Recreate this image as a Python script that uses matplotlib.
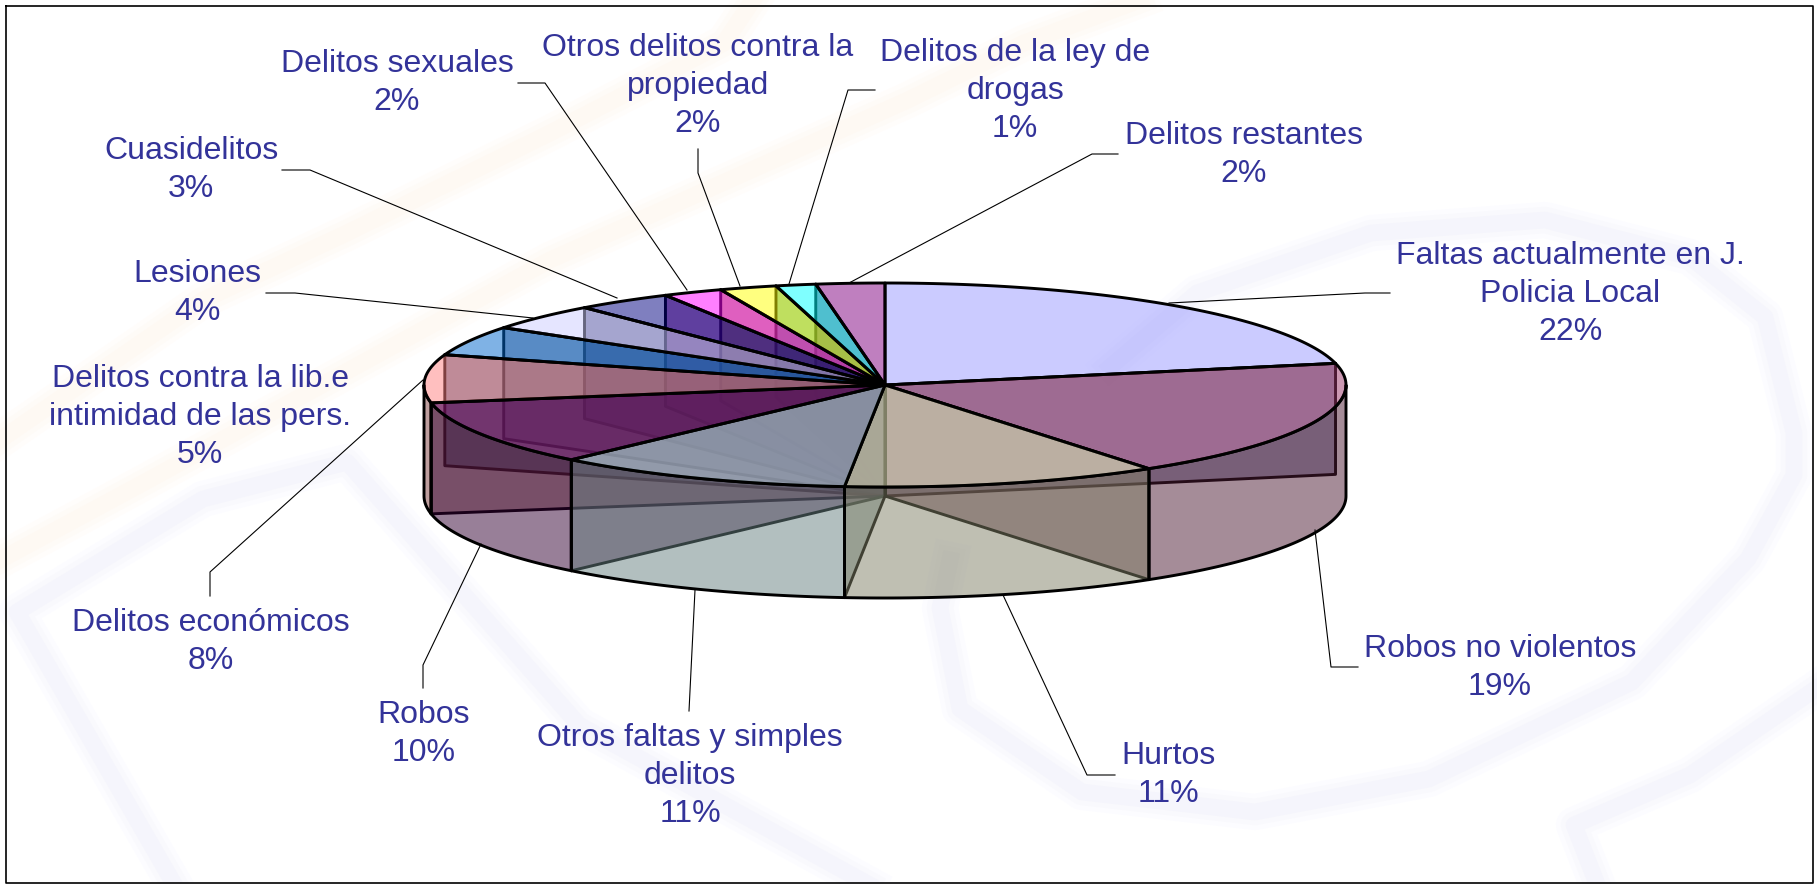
import numpy as np
import matplotlib
matplotlib.use("Agg")
import matplotlib.pyplot as plt
from matplotlib.colors import to_rgb
from matplotlib.patches import Polygon

categories = ["Faltas actualmente en J.\nPolicia Local", "Robos no violentos", "Hurtos",
              "Otros faltas y simples\ndelitos", "Robos", "Delitos económicos",
              "Delitos contra la lib.e\nintimidad de las pers.", "Lesiones", "Cuasidelitos",
              "Delitos sexuales", "Otros delitos contra la\npropiedad",
              "Delitos de la ley de\ndrogas", "Delitos restantes"]
shares = [21.6, 18.7, 11.1, 10.51, 10.29, 7.6, 4.7, 4.2, 3.4, 2.1, 2.0, 1.4, 2.4]
colors = ["#9999FF", "#993366", "#FFFFCC", "#CCFFFF", "#660066", "#FF8080", "#0066CC",
          "#CCCCFF", "#000080", "#FF00FF", "#FFFF00", "#00FFFF", "#800080"]

# where the labels sit, in pixels
label_pos = [(1570, 294), (1500, 668), (1168, 775), (690, 776), (424, 734), (211, 642),
             (200, 417), (197, 293), (191, 170), (397, 83), (698, 86), (1015, 91), (1244, 155)]
leaders = [[(1390, 293), (1365, 293), (1169, 303)],
           [(1358, 667), (1331, 667), (1315, 530)],
           [(1115, 775), (1087, 775), (1003, 595)],
           [(689, 711), (695, 590)],
           [(423, 688), (423, 665), (481, 544)],
           [(210, 596), (210, 572), (423, 380)],
           [],
           [(266, 293), (295, 293), (533, 318)],
           [(282, 170), (310, 170), (617, 298)],
           [(518, 83), (545, 83), (687, 290)],
           [(698, 149), (698, 173), (740, 286)],
           [(875, 90), (848, 90), (789, 284)],
           [(1118, 154), (1092, 154), (849, 283)]]

# faint logo behind the chart
wm_lavender = [
    [(1110, 367), (1197, 293), (1371, 233), (1545, 220), (1690, 257), (1765, 317), (1794, 433),
     (1794, 475), (1748, 559), (1632, 682), (1429, 779), (1255, 812), (1082, 792), (960, 709),
     (940, 608), (950, 560)],
    [(1817, 688), (1690, 775), (1574, 825), (1597, 884)],
    [(174, 884), (17, 612), (203, 499), (347, 462), (579, 725), (868, 884)]]
wm_orange = [
    [(1140, 0), (1024, 43), (908, 100), (550, 260), (145, 482), (0, 560)],
    [(753, 0), (724, 43), (550, 133), (347, 233), (203, 300), (0, 440)]]

cx, cy, rx, ry, depth = 885, 385, 461, 102, 111
alpha = 0.5
lw = 2.1


def pt(a, dz=0):
    # a is clockwise from north, in degrees
    a = np.radians(a)
    return cx + rx * np.sin(a), cy - ry * np.cos(a) + dz


def arc(a0, a1, dz=0):
    n = max(2, int(abs(a1 - a0)) + 2)
    return [pt(a, dz) for a in np.linspace(a0, a1, n)]


fig = plt.figure(figsize=(18.17, 8.84), dpi=100)
ax = fig.add_axes([0, 0, 1, 1])
ax.set_xlim(0, 1817)
ax.set_ylim(884, 0)
ax.axis("off")
plt.rcParams["font.family"] = ["Liberation Sans", "DejaVu Sans"]

# solid pale colours, low alpha rounds to a green tint
for paths, shades in [(wm_orange, ["#FFFDFB", "#FEFBF7", "#FEF9F3"]),
                      (wm_lavender, ["#FCFCFF", "#F9F9FD", "#F5F5FC"])]:
    for p in paths:
        for w, c in zip((26, 19, 12), shades):
            ax.plot(*zip(*p), color=c, lw=w, zorder=1, solid_joinstyle="round")

edges = np.cumsum([0] + shares) * 3.6
top_rgba = [to_rgb(c) + (alpha,) for c in colors]
side_rgba = [tuple(v * 0.5 for v in to_rgb(c)) + (alpha,) for c in colors]
kw = dict(edgecolor="black", linewidth=lw, joinstyle="round")


def radial(i, a):
    pts = [(cx, cy), pt(a), pt(a, depth), (cx, cy + depth)]
    ax.add_patch(Polygon(pts, closed=True, facecolor=side_rgba[i], zorder=3, **kw))


# only the radial walls that face the viewer, back to front
for i in range(len(shares)):
    if 0 < edges[i + 1] < 180:
        radial(i, edges[i + 1])
for i in range(len(shares) - 1, -1, -1):
    if 180 < edges[i] < 360:
        radial(i, edges[i])

# outer walls, front half only
for i in range(len(shares)):
    a0, a1 = max(edges[i], 90), min(edges[i + 1], 270)
    if a1 <= a0:
        continue
    pts = arc(a0, a1) + arc(a1, a0, depth)
    ax.add_patch(Polygon(pts, closed=True, facecolor=side_rgba[i], zorder=4, **kw))

# tops
for i in range(len(shares)):
    pts = [(cx, cy)] + arc(edges[i], edges[i + 1])
    ax.add_patch(Polygon(pts, closed=True, facecolor=top_rgba[i], zorder=5, **kw))

for i, name in enumerate(categories):
    ax.text(label_pos[i][0], label_pos[i][1], f"{name}\n{round(shares[i])}%", ha="center", va="center",
            fontsize=23, color="#333399", linespacing=1.335, zorder=7)
    if leaders[i]:
        ax.plot(*zip(*leaders[i]), color="black", lw=0.8, zorder=6)

ax.plot([6, 1813, 1813, 6, 6], [6, 6, 883, 883, 6], color="black", lw=1.2, zorder=8, clip_on=False)

fig.savefig("out.png", dpi=100)
